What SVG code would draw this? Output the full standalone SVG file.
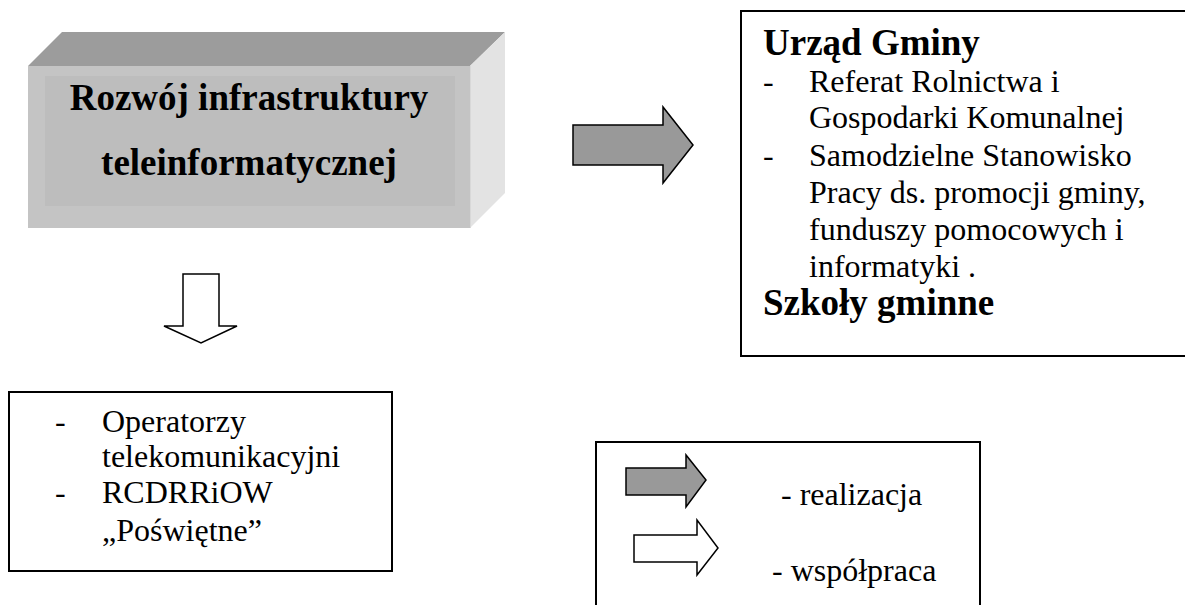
<svg xmlns="http://www.w3.org/2000/svg" width="1185" height="605" viewBox="0 0 1185 605">
<style>
.t{font-family:"Liberation Serif","Times New Roman",serif;font-size:32px;fill:#000}
.b{font-family:"Liberation Serif","Times New Roman",serif;font-size:37px;font-weight:bold;fill:#000}
.box{fill:#fff;stroke:#000;stroke-width:2}
.arr{stroke:#000;stroke-width:1.5;stroke-linejoin:miter}
</style>
<rect width="1185" height="605" fill="#fff"/>
<g id="node-rozwoj">
<polygon points="28,66 62,32 505,32 470,66" fill="#9c9c9c"/>
<polygon points="470,66 505,32 505,193 470,228" fill="#e3e3e3"/>
<rect x="28" y="66" width="442" height="162" fill="#c4c4c4"/>
<rect x="45" y="76" width="410" height="130" fill="#bdbdbd"/>
<line x1="470.5" y1="66" x2="470.5" y2="228" stroke="#d8d8d8" stroke-width="1"/>
<text class="b" x="249" y="110" text-anchor="middle">Rozwój infrastruktury</text>
<text class="b" x="249" y="175" text-anchor="middle">teleinformatycznej</text>
</g>
<g id="node-urzad">
<rect class="box" x="741" y="11" width="460" height="345"/>
<text class="b" x="763" y="55">Urząd Gminy</text>
<text class="t" x="763" y="92">-</text>
<text class="t" x="809" y="92">Referat Rolnictwa i</text>
<text class="t" x="809" y="128">Gospodarki Komunalnej</text>
<text class="t" x="763" y="166">-</text>
<text class="t" x="809" y="166">Samodzielne Stanowisko</text>
<text class="t" x="809" y="203">Pracy ds. promocji gminy,</text>
<text class="t" x="809" y="240">funduszy pomocowych i</text>
<text class="t" x="809" y="277">informatyki .</text>
<text class="b" x="763" y="315">Szkoły gminne</text>
</g>
<g id="node-operatorzy">
<rect class="box" x="9" y="392" width="383" height="179"/>
<text class="t" x="55" y="432">-</text>
<text class="t" x="102" y="432">Operatorzy</text>
<text class="t" x="102" y="467">telekomunikacyjni</text>
<text class="t" x="55" y="503">-</text>
<text class="t" x="102" y="503">RCDRRiOW</text>
<text class="t" x="102" y="541">„Poświętne”</text>
</g>
<g id="legend">
<rect class="box" x="596" y="442" width="384" height="180"/>
<polygon class="arr" points="626,468 686,468 686,455 706,480 686,507 686,495 626,495" fill="#999999"/>
<polygon class="arr" points="634,535 697,535 697,520 718,548 697,575 697,562 634,562" fill="#fff"/>
<text class="t" x="781" y="505">- realizacja</text>
<text class="t" x="772" y="581">- współpraca</text>
</g>
<g id="connectors">
<polygon class="arr" points="573,125 663,125 663,107 693,145 663,183 663,165 573,165" fill="#999999"/>
<polygon class="arr" points="183,274 219,274 219,326 237,326 201,343 164,326 183,326" fill="#fff"/>
</g>
</svg>
